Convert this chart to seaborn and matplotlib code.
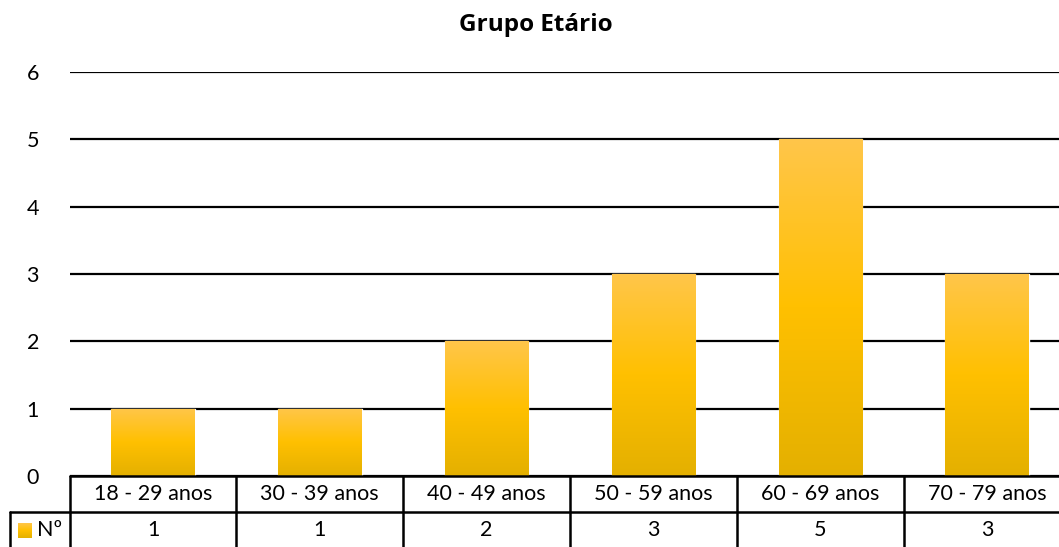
import numpy as np
import pandas as pd
import matplotlib
matplotlib.use("Agg")
import matplotlib.pyplot as plt
import seaborn as sns
from matplotlib.colors import LinearSegmentedColormap

# Chart data
categories = ["18 - 29 anos", "30 - 39 anos", "40 - 49 anos",
              "50 - 59 anos", "60 - 69 anos", "70 - 79 anos"]
counts = [1, 1, 2, 3, 5, 3]
series_name = "Nº"
chart_title = "Grupo Etário"
y_ticks = [0, 1, 2, 3, 4, 5, 6]

sns.set_theme(style="white")
plt.rcParams["font.family"] = ["Lato", "DejaVu Sans"]

W, H = 1059, 547
fig = plt.figure(figsize=(W / 100, H / 100), dpi=100)


def fx(px):
    return px / W


def fy(py):
    return (H - py) / H


# Plot area (the right-most column runs slightly past the canvas edge)
left_px, right_px, top_px, base_px = 69.6, 1070.4, 72, 476
ax = fig.add_axes([fx(left_px), fy(base_px), fx(right_px - left_px),
                   (base_px - top_px) / H])

df = pd.DataFrame({"grupo": categories, "n": counts})
sns.barplot(data=df, x="grupo", y="n", ax=ax, width=0.50, color="#FFC000",
            saturation=1, zorder=3, errorbar=None)

# Vertical gold gradient inside each bar
gold = LinearSegmentedColormap.from_list(
    "gold", ["#E4B000", "#FFC000", "#FFC64A"])
grad = np.linspace(0, 1, 256).reshape(-1, 1)
for patch in list(ax.patches):
    x0, y0 = patch.get_x(), patch.get_y()
    w, h = patch.get_width(), patch.get_height()
    im = ax.imshow(grad, cmap=gold, origin="lower", aspect="auto",
                   extent=[x0, x0 + w, y0, y0 + h], zorder=3.5)
    im.set_clip_path(patch)

ax.set_xlim(-0.5, len(categories) - 0.5)
ax.set_ylim(0, 6)
ax.set_yticks(y_ticks)
ax.set_yticklabels([str(t) for t in y_ticks], fontsize=15.5, color="#000000")
ax.tick_params(axis="y", length=0, pad=22)
ax.set_xticks([])
ax.set_xlabel("")
ax.set_ylabel("")
ax.yaxis.grid(True, color="black", linewidth=1.6)
ax.set_axisbelow(True)
for s in ax.spines.values():
    s.set_visible(False)

fig.text(fx(536), fy(25), chart_title, ha="center", va="center",
         fontsize=17.5, fontweight="bold", color="#000000",
         family=["Open Sans", "DejaVu Sans"])

# Data table under the plot
row1_top, row1_bot, row2_bot = 476, 512, 547
col_w = (right_px - left_px) / len(categories)
lw = 1.8
fig.add_artist(plt.Line2D([fx(left_px), fx(W + 20)], [fy(row1_top)] * 2,
                          color="black", lw=lw))
fig.add_artist(plt.Line2D([fx(10), fx(W + 20)], [fy(row1_bot)] * 2,
                          color="black", lw=lw))
fig.add_artist(plt.Line2D([fx(10), fx(10)], [fy(row1_bot), fy(row2_bot + 5)],
                          color="black", lw=lw))
for i in range(len(categories) + 1):
    xp = left_px + i * col_w
    fig.add_artist(plt.Line2D([fx(xp), fx(xp)], [fy(row1_top), fy(row2_bot + 5)],
                              color="black", lw=lw))

for i, (cat, val) in enumerate(zip(categories, counts)):
    xc = left_px + (i + 0.5) * col_w
    fig.text(fx(xc), fy(494), cat, ha="center", va="center", fontsize=15.5,
             color="#000000")
    fig.text(fx(xc), fy(530), str(val), ha="center", va="center",
             fontsize=15.5, color="#000000")

# Legend key and series name
key_ax = fig.add_axes([fx(18), fy(538), fx(14), 15 / H])
key_ax.imshow(grad, cmap=gold, origin="lower", aspect="auto")
key_ax.set_axis_off()
fig.text(fx(37), fy(530), series_name, ha="left", va="center", fontsize=15.5,
         color="#000000")

fig.savefig("out.png", dpi=100)
